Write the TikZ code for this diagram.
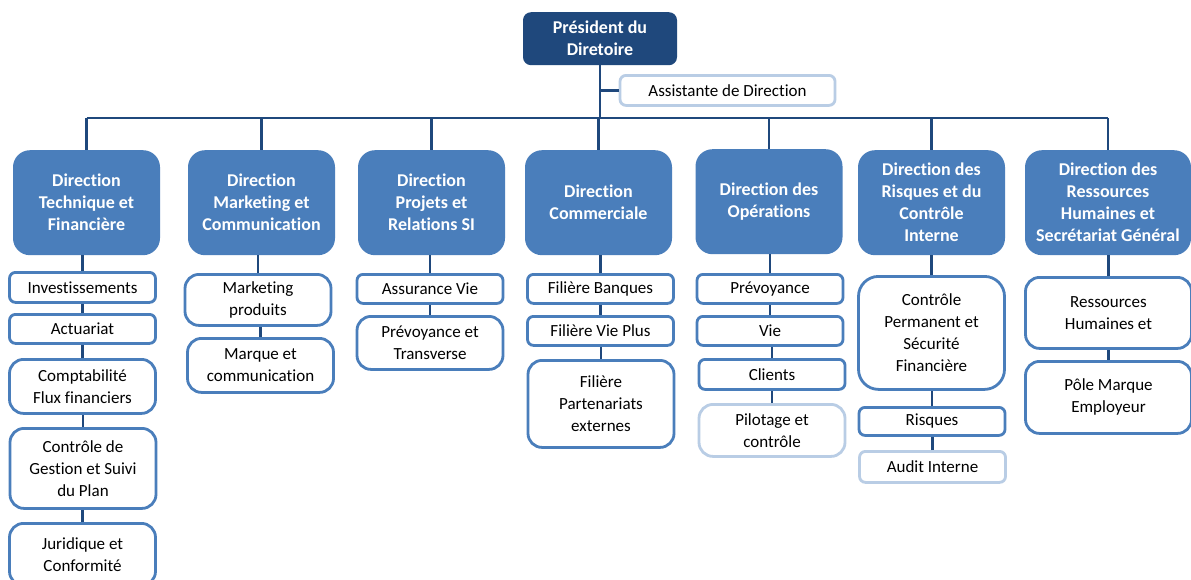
\documentclass[tikz,border=0pt]{standalone}
\usepackage{fontspec}
\setmainfont{Carlito}[Ligatures=NoCommon]
\definecolor{navy}{HTML}{1F487C}
\definecolor{midblue}{HTML}{4A7EBB}
\definecolor{paleblue}{HTML}{B9CDE5}
\newcommand\chartsize{\fontsize{17}{22}\selectfont}
\newcommand\headsize{\fontsize{18}{22}\selectfont}
\tikzset{
    chief/.style={fill=navy, text=white, font=\headsize\bfseries, rounded corners=8pt,
        align=center, minimum width=154pt, minimum height=53pt, anchor=north, inner sep=2pt},
    head/.style={fill=midblue, text=white, font=\headsize\bfseries, rounded corners=17pt,
        align=center, minimum width=147pt, minimum height=105pt, anchor=north, inner sep=2pt},
    unit/.style={draw=midblue, line width=2.8pt, fill=white, rounded corners=6pt,
        align=center, minimum width=146pt, anchor=north, inner sep=2pt},
    faint/.style={unit, draw=paleblue},
    tall/.style={rounded corners=14pt},
    link/.style={navy, line width=2.4pt}
}
\begin{document}
\begin{tikzpicture}[x=1pt, y=-1pt, font=\chartsize]
    \clip (0,0) rectangle (1191,579);
    \fill[white] (0,0) rectangle (1191,579);
    % top of the chart
    \node[chief] (pres) at (600,12) {Président du\\Diretoire};
    \node[faint, minimum width=215pt, minimum height=30pt] (asst) at (727.5,74) {Assistante de Direction};
    \coordinate (bus) at (600,118);
    % directions
    \node[head] (d1) at (86.5,150) {Direction\\Technique et\\Financière};
    \node[head] (d2) at (261.5,150) {Direction\\Marketing et\\Communication};
    \node[head] (d3) at (431.5,150) {Direction\\Projets et\\Relations SI};
    \node[head] (d4) at (598.5,150) {Direction\\Commerciale};
    \node[head] (d5) at (769,149) {Direction des\\Opérations};
    \node[head] (d6) at (931.5,150) {Direction des\\Risques et du\\Contrôle\\Interne};
    \node[head, minimum width=166pt] (d7) at (1108,150) {Direction des\\Ressources\\Humaines et\\Secrétariat Général};
    % services
    \node[unit, minimum height=30pt] (inv) at (82.5,271) {Investissements};
    \node[unit, minimum height=29pt] (act) at (82.5,313) {Actuariat};
    \node[unit, tall, minimum height=54pt] (cpt) at (82.5,358) {Comptabilité\\Flux financiers};
    \node[unit, tall, minimum height=80pt] (cdg) at (83,427) {Contrôle de\\Gestion et Suivi\\du Plan};
    \node[unit, tall, minimum height=62pt] (jur) at (82.5,522) {Juridique et\\Conformité};
    \node[unit, tall, minimum height=51pt] (mkp) at (258,273) {Marketing\\produits};
    \node[unit, tall, minimum height=54pt] (mqc) at (260.5,337) {Marque et\\communication};
    \node[unit, minimum height=29pt] (asv) at (430,273) {Assurance Vie};
    \node[unit, tall, minimum height=53pt] (pvt) at (430,315) {Prévoyance et\\Transverse};
    \node[unit, minimum height=29pt] (fbq) at (600.5,273) {Filière Banques};
    \node[unit, minimum height=29pt] (fvp) at (600.5,315) {Filière Vie Plus};
    \node[unit, tall, minimum height=87pt] (fpe) at (601,359) {Filière\\Partenariats\\externes};
    \node[unit, minimum height=29pt] (prv) at (770,273) {Prévoyance};
    \node[unit, minimum height=29pt] (vie) at (770,315) {Vie};
    \node[unit, minimum height=30pt] (cli) at (772,358) {Clients};
    \node[faint, tall, minimum height=52pt] (pil) at (772,403) {Pilotage et\\contrôle};
    \node[unit, rounded corners=20pt, minimum height=113pt] (cps) at (931.5,275) {Contrôle\\Permanent et\\Sécurité\\Financière};
    \node[unit, minimum height=28pt] (rsq) at (932,406) {Risques};
    \node[faint, minimum height=31pt] (aud) at (932.5,450) {Audit Interne};
    \node[unit, tall, minimum width=166pt, minimum height=71pt] (rhe) at (1108.5,276) {Ressources\\Humaines et};
    \node[unit, tall, minimum width=166pt, minimum height=72pt] (pme) at (1108.5,360) {Pôle Marque\\Employeur};
    % connectors
    \draw[link] (pres.south) -- (pres.south |- bus);
    \draw[link] (asst.west) -- (pres.south |- asst.west);
    \draw[link] (d1.north |- bus) -- (d7.north |- bus);
    \foreach \d in {d1,d2,d3,d4,d5,d6,d7}
        \draw[link] (\d.north |- bus) -- (\d.north);
    \draw[link] (inv.north) -- (inv.north |- d1.south);
    \draw[link] (act.north) -- (act.north |- inv.south);
    \draw[link] (cpt.north) -- (cpt.north |- act.south);
    \draw[link] (cdg.north) -- (cdg.north |- cpt.south);
    \draw[link] (jur.north) -- (jur.north |- cdg.south);
    \draw[link] (mkp.north) -- (mkp.north |- d2.south);
    \draw[link] (mqc.north) -- (mqc.north |- mkp.south);
    \draw[link] (asv.north) -- (asv.north |- d3.south);
    \draw[link] (pvt.north) -- (pvt.north |- asv.south);
    \draw[link] (fbq.north) -- (fbq.north |- d4.south);
    \draw[link] (fvp.north) -- (fvp.north |- fbq.south);
    \draw[link] (fpe.north) -- (fpe.north |- fvp.south);
    \draw[link] (prv.north) -- (prv.north |- d5.south);
    \draw[link] (vie.north) -- (vie.north |- prv.south);
    \draw[link] (cli.north) -- (cli.north |- vie.south);
    \draw[link] (pil.north) -- (pil.north |- cli.south);
    \draw[link] (cps.north) -- (cps.north |- d6.south);
    \draw[link] (rsq.north) -- (rsq.north |- cps.south);
    \draw[link] (aud.north) -- (aud.north |- rsq.south);
    \draw[link] (rhe.north) -- (rhe.north |- d7.south);
    \draw[link] (pme.north) -- (pme.north |- rhe.south);
\end{tikzpicture}
\end{document}
